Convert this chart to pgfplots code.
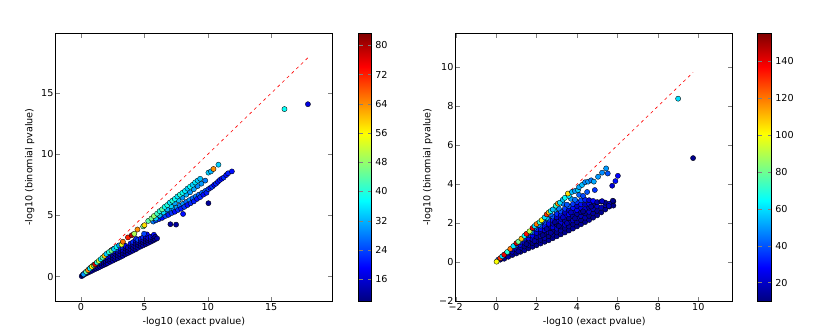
\documentclass[border=0pt]{standalone}
\usepackage{fontspec}
\setmainfont{DejaVu Sans}
\usepackage{pgfplots}
\pgfplotsset{compat=1.18}

\pgfplotsset{
  /pgf/number format/assume math mode=true,
  every tick label/.append style={font=\fontsize{9.6}{11}\selectfont},
  every axis label/.append style={font=\fontsize{9.6}{11}\selectfont},
  qq/.style={
    scale only axis, height=267.7pt,
    axis line style={black, line width=0.7pt},
    colormap/jet, colorbar,
    xticklabel style={yshift=1.5pt},
    yticklabel style={xshift=1.2pt},
    xlabel={-log10 (exact pvalue)},
    ylabel={-log10 (binomial pvalue)},
  },
  cb/.style={
    at={(parent axis.north east)}, anchor=north west,
    scale only axis, height=267.7pt,
    axis line style={black, line width=0.7pt},
  },
  dots/.style={
    scatter, only marks, scatter src=explicit,
    mark=*, mark size=2.6pt,
    mark options={line width=0.35pt},
    scatter/use mapped color={draw=black, fill=mapped color},
  },
  diag/.style={red, line width=0.6pt, dash pattern=on 3pt off 3.5pt},
}

\begin{document}
\begin{tikzpicture}
\path[use as bounding box] (0,0) rectangle (830pt,335pt);

% left panel
\begin{axis}[qq, at={(55.7pt,34pt)}, anchor=south west, width=276.3pt,
  xmin=-2, xmax=19.8, ymin=-2, ymax=19.9,
  xtick={0,5,10,15}, ytick={0,5,10,15},
  point meta min=10, point meta max=83.3,
  colorbar style={cb, xshift=18.3pt, width=13pt, ytick={16,24,...,80}}]
% lower band
\addplot[dots] table[meta=c] {
x y c
0.05 0.03 13
0.15 0.10 15
0.15 0.16 12
0.30 0.20 12
0.30 0.30 18
0.45 0.28 14
0.45 0.42 12
0.60 0.35 13
0.60 0.50 16
0.60 0.58 22
0.75 0.42 12
0.75 0.60 14
0.75 0.72 24
0.90 0.50 15
0.90 0.68 12
0.90 0.85 20
1.05 0.58 12
1.05 0.78 14
1.05 0.98 26
1.20 0.65 13
1.20 0.85 16
1.20 1.05 22
1.35 0.72 12
1.35 0.95 14
1.35 1.15 20
1.50 0.80 14
1.50 1.02 12
1.50 1.22 18
1.65 0.88 12
1.65 1.10 15
1.65 1.32 24
1.80 0.95 13
1.80 1.18 12
1.80 1.40 17
1.80 1.60 26
1.95 1.02 12
1.95 1.25 14
1.95 1.50 13
1.95 1.72 22
2.10 1.10 15
2.10 1.32 12
2.10 1.58 18
2.10 1.85 24
2.30 1.20 12
2.30 1.42 13
2.30 1.65 16
2.30 1.90 20
2.40 2.15 26
2.50 1.30 14
2.50 1.52 12
2.50 1.75 13
2.50 2.00 22
2.60 2.28 22
2.70 1.40 12
2.70 1.62 15
2.70 1.85 12
2.70 2.08 18
2.90 1.50 13
2.90 1.72 12
2.90 1.95 14
2.90 2.20 24
3.10 1.60 12
3.10 1.82 14
3.10 2.05 12
3.10 2.30 20
3.30 1.70 14
3.30 1.92 12
3.30 2.15 16
3.30 2.40 22
3.40 2.58 20
3.50 1.82 12
3.50 2.05 13
3.50 2.28 12
3.50 2.50 18
3.70 1.92 13
3.70 2.15 12
3.70 2.38 15
3.90 2.02 12
3.90 2.25 14
3.90 2.50 12
3.90 2.70 20
4.10 2.12 14
4.10 2.35 12
4.10 2.60 13
4.10 2.82 22
4.30 2.22 12
4.30 2.45 15
4.30 2.68 12
4.30 2.95 18
4.35 3.08 22
4.50 2.35 13
4.50 2.58 12
4.50 2.80 14
4.50 3.00 24
4.70 2.45 12
4.70 2.68 13
4.70 2.90 12
4.70 3.10 20
4.90 2.55 14
4.90 2.78 12
4.90 3.00 15
4.90 3.20 22
5.10 2.65 12
5.10 2.88 13
5.10 3.08 12
5.10 3.32 19
5.20 3.45 18
5.30 2.75 13
5.30 2.95 12
5.30 3.15 16
5.50 2.85 12
5.50 3.05 14
5.50 3.25 20
5.70 2.95 12
5.70 3.15 13
5.70 3.32 18
5.75 3.42 20
5.85 3.05 14
5.85 3.25 12
6.00 3.12 13
};
% middle band
\addplot[dots] table[meta=c] {
x y c
5.70 4.50 28
5.90 4.60 24
6.00 4.85 32
6.15 4.70 22
6.30 4.95 30
6.40 4.80 20
6.55 5.10 31
6.65 4.95 24
6.80 5.20 28
6.90 5.05 21
7.05 5.35 30
7.15 5.20 23
7.30 5.50 29
7.40 5.30 20
7.55 5.65 31
7.65 5.45 22
7.80 5.80 28
7.90 5.55 21
8.05 5.95 30
8.15 5.70 23
8.30 6.10 27
8.40 5.85 20
8.55 6.25 30
8.65 6.00 22
8.80 6.40 27
8.90 6.15 21
9.05 6.55 28
9.15 6.35 20
9.30 6.70 26
9.40 6.50 22
9.55 6.85 27
9.65 6.70 20
9.80 7.00 25
9.90 6.85 21
10.05 7.15 24
10.20 7.25 20
10.35 7.35 23
10.50 7.50 19
10.65 7.60 22
10.80 7.75 20
10.95 7.90 21
11.10 8.00 19
11.25 8.10 22
11.45 8.30 20
11.60 8.45 21
11.90 8.60 20
5.90 4.75 34
6.20 5.00 33
6.50 5.25 35
6.80 5.50 32
7.10 5.75 34
7.40 6.00 31
7.70 6.25 33
8.00 6.45 30
8.30 6.70 32
8.60 6.90 30
8.90 7.15 31
9.20 7.40 29
9.50 7.60 30
9.80 7.85 28
};
% near-diagonal and upper band
\addplot[dots] table[meta=c] {
x y c
0.20 0.18 30
0.40 0.38 44
0.55 0.52 64
0.70 0.66 36
0.85 0.80 56
1.00 0.92 48
1.10 1.00 76
1.25 1.15 40
1.40 1.28 52
1.55 1.42 36
1.70 1.55 44
1.85 1.70 60
2.00 1.85 34
2.20 2.00 40
2.40 2.12 46
2.60 2.25 34
2.80 2.42 38
3.00 2.55 30
3.20 2.62 54
3.30 2.85 66
3.70 3.20 72
4.00 3.38 80
4.20 3.50 50
4.45 3.85 64
4.90 4.10 46
5.00 4.20 58
5.30 4.55 44
5.55 4.75 46
5.75 4.95 48
6.00 5.15 42
6.20 5.35 40
6.40 5.50 44
6.60 5.70 38
6.80 5.85 40
7.00 6.05 36
7.20 6.20 40
7.40 6.35 38
7.60 6.55 36
7.80 6.70 40
8.00 6.85 38
8.20 7.00 36
8.40 7.20 34
8.60 7.35 38
8.80 7.50 34
9.00 7.70 36
9.20 7.85 34
9.40 8.00 33
10.05 8.50 34
10.25 8.60 32
10.45 8.80 64
10.84 9.15 34
4.97 3.50 24
7.05 4.28 12
7.50 4.25 12
8.05 5.12 20
10.05 6.00 12
16.05 13.70 38
17.90 14.10 17
};
\addplot[diag] coordinates {(0,0) (17.9,17.9)};
\end{axis}

% right panel
\begin{axis}[qq, at={(455.7pt,34pt)}, anchor=south west, width=277pt,
  xmin=-2, xmax=11.7, ymin=-2, ymax=11.75,
  xtick={-2,0,...,10}, ytick={-2,0,...,10},
  xticklabels={−2,0,2,4,6,8,10}, yticklabels={−2,0,2,4,6,8,10},
  point meta min=10, point meta max=155,
  colorbar style={cb, xshift=16.6pt, width=14pt, ytick={20,40,...,140}}]
% dense mass
\addplot[dots] table[meta=c] {
x y c
0.20 0.12 14
0.40 0.17 12
0.40 0.34 22
0.60 0.27 15
0.60 0.50 30
0.80 0.36 12
0.80 0.53 18
0.80 0.68 26
1.00 0.44 13
1.00 0.65 20
1.00 0.86 32
1.20 0.52 12
1.20 0.70 16
1.20 0.88 24
1.20 1.04 34
1.40 0.60 14
1.40 0.80 12
1.40 1.00 22
1.40 1.20 30
1.60 0.70 12
1.60 0.88 18
1.60 1.05 13
1.60 1.22 26
1.60 1.38 36
1.80 0.78 13
1.80 0.98 12
1.80 1.17 20
1.80 1.36 28
1.80 1.54 38
2.00 0.86 12
2.00 1.07 16
2.00 1.28 14
2.00 1.50 24
2.00 1.70 34
2.20 0.95 14
2.20 1.14 12
2.20 1.33 20
2.20 1.51 15
2.20 1.70 28
2.20 1.87 40
2.40 1.04 12
2.40 1.24 18
2.40 1.44 13
2.40 1.64 24
2.40 1.84 30
2.40 2.03 38
2.60 1.12 13
2.60 1.33 12
2.60 1.54 22
2.60 1.76 16
2.60 1.97 28
2.60 2.18 36
2.80 1.22 12
2.80 1.41 15
2.80 1.60 13
2.80 1.79 24
2.80 1.97 18
2.80 2.16 30
2.80 2.34 40
3.00 1.32 14
3.00 1.52 12
3.00 1.72 20
3.00 1.92 14
3.00 2.11 26
3.00 2.30 22
3.00 2.48 34
3.20 1.42 12
3.20 1.62 16
3.20 1.82 13
3.20 2.02 24
3.20 2.22 18
3.20 2.42 30
3.20 2.60 38
3.40 1.52 13
3.40 1.72 12
3.40 1.92 22
3.40 2.12 15
3.40 2.33 26
3.40 2.54 20
3.40 2.74 36
3.60 1.62 12
3.60 1.83 14
3.60 2.04 18
3.60 2.25 12
3.60 2.46 28
3.60 2.67 22
3.60 2.87 40
3.80 1.72 14
3.80 1.93 12
3.80 2.14 20
3.80 2.35 16
3.80 2.56 24
3.80 2.78 30
3.80 2.98 36
4.00 1.83 12
4.00 2.04 13
4.00 2.25 22
4.00 2.46 14
4.00 2.67 26
4.00 2.88 20
4.00 3.08 34
4.20 1.94 13
4.20 2.15 12
4.20 2.36 18
4.20 2.56 14
4.20 2.77 24
4.20 2.97 30
4.20 3.17 38
4.40 2.05 12
4.40 2.28 16
4.40 2.50 13
4.40 2.73 22
4.40 2.96 18
4.40 3.20 32
4.60 2.16 14
4.60 2.37 12
4.60 2.58 20
4.60 2.79 15
4.60 2.99 26
4.60 3.18 22
4.80 2.28 12
4.80 2.50 14
4.80 2.72 18
4.80 2.93 13
4.80 3.14 28
5.00 2.40 13
5.00 2.63 12
5.00 2.86 20
5.00 3.08 16
5.20 2.55 12
5.20 2.80 18
5.20 3.10 14
5.40 2.70 13
5.40 2.92 20
5.40 3.05 12
5.60 2.85 16
5.60 3.00 22
5.80 2.90 12
5.80 3.12 14
5.77 3.15 12
5.57 2.88 18
5.24 3.13 20
1.10 0.55 14
1.50 0.92 12
1.90 1.08 15
2.30 1.38 12
2.70 1.50 14
3.10 1.85 12
3.50 2.00 16
3.90 2.25 13
4.30 2.60 12
4.70 2.85 14
3.30 2.30 20
3.70 2.55 18
2.50 1.70 15
2.90 2.05 13
};
% intermediate blue-cyan row and the coloured edge
\addplot[dots] table[meta=c] {
x y c
0.50 0.45 45
0.90 0.82 55
1.30 1.20 50
1.70 1.55 60
2.10 1.90 48
2.50 2.25 55
2.90 2.68 52
3.30 3.00 45
3.70 3.25 50
4.10 3.45 42
4.50 3.60 40
4.30 3.40 38
3.90 3.20 44
3.50 2.95 40
3.10 2.75 46
2.70 2.45 42
2.30 2.10 40
1.90 1.75 44
1.50 1.40 38
1.10 1.02 42
0.10 0.12 40
0.20 0.20 130
0.30 0.30 60
0.40 0.38 140
0.55 0.52 70
0.70 0.68 120
0.85 0.82 60
1.00 0.97 145
1.10 1.05 80
1.25 1.20 110
1.40 1.35 65
1.50 1.45 135
1.65 1.58 90
1.80 1.75 140
1.90 1.85 60
2.00 1.95 120
2.15 2.05 70
2.25 2.15 100
2.40 2.30 60
2.50 2.45 130
2.60 2.55 110
2.70 2.62 65
2.80 2.70 55
2.95 2.90 70
3.05 3.00 115
3.15 3.05 60
3.30 3.20 55
3.40 3.30 65
3.60 3.40 60
3.55 3.52 105
3.75 3.60 55
3.90 3.65 50
4.05 3.70 58
4.10 3.85 52
4.25 3.96 55
4.40 4.10 48
4.55 4.13 50
4.70 4.20 45
4.83 4.13 52
5.04 4.38 50
5.24 4.59 48
5.44 4.81 50
5.52 4.55 40
0.02 0.02 100
6.02 4.43 28
5.90 4.16 30
5.74 3.92 22
4.88 3.70 35
9.00 8.39 60
9.74 5.34 12
};
\addplot[diag] coordinates {(0,0) (9.74,9.74)};
\end{axis}
\end{tikzpicture}
\end{document}
